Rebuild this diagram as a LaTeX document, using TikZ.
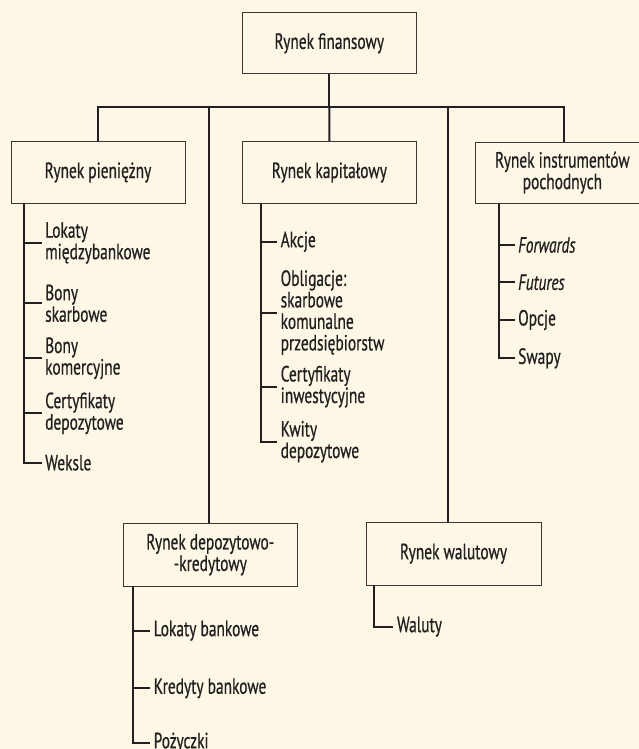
\documentclass[tikz,border=0pt]{standalone}
\usepackage{fontspec}
\setmainfont{PT Sans}[FakeStretch=0.7, FakeBold=0.6]
\definecolor{bg}{HTML}{FDF8E6}
\definecolor{linec}{HTML}{231F20}
\definecolor{boxc}{HTML}{3A3636}
\begin{document}
\begin{tikzpicture}[x=1pt,y=-1pt,
  txt/.style={font=\fontsize{22}{21.5}\selectfont, text=linec},
  box/.style={txt, draw=boxc, line width=1pt, fill=bg, align=center, inner sep=0pt},
  leaf/.style={txt, anchor=west, align=left, inner xsep=3.5pt, inner ysep=0pt},
  conn/.style={draw=linec, line width=2pt},
]
\useasboundingbox (0,0) rectangle (639,749);
\clip (0,0) rectangle (639,749);
\fill[bg] (0,0) rectangle (639,749);

% boxes
\node[box, minimum width=174pt, minimum height=61.3pt] (fin) at (329.3,43.35) {Rynek finansowy};
\node[box, minimum width=174pt, minimum height=61.6pt] (pien) at (98,172.5) {Rynek pieniężny};
\node[box, minimum width=174pt, minimum height=61.6pt] (kap) at (329.4,172.5) {Rynek kapitałowy};
\node[box, minimum width=173.3pt, minimum height=61.3pt] (poch) at (562.4,172.65) {Rynek instrumentów\\pochodnych};
\node[box, minimum width=174pt, minimum height=62.7pt] (dep) at (210.3,554.65) {Rynek depozytowo-\\-kredytowy};
\node[box, minimum width=175pt, minimum height=62.7pt] (wal) at (453.5,553.65) {Rynek walutowy};

% main connectors
\coordinate (bus) at (329.3,107.3);
\coordinate (busL) at (97.7,107.3);
\coordinate (busR) at (564,107.3);
\draw[conn] (fin.south) -- (bus);
\draw[conn] (pien.north -| busL) -- (busL) -- (busR) -- (poch.north -| busR);
\draw[conn] (bus) -- (kap.north);
\draw[conn] (209.3,107.3) coordinate (bd) -- (dep.north -| bd);
\draw[conn] (448.3,107.3) coordinate (bw) -- (wal.north -| bw);

% Rynek pieniezny children
\coordinate (v1) at (24,203.3);
\node[leaf] (p1) at (41.5,243) {Lokaty\\międzybankowe};
\node[leaf] (p2) at (41.5,303.3) {Bony\\skarbowe};
\node[leaf] (p3) at (41.5,358.3) {Bony\\komercyjne};
\node[leaf] (p4) at (41.5,413.3) {Certyfikaty\\depozytowe};
\node[leaf] (p5) at (41.5,462.7) {Weksle};
\draw[conn] (v1) |- (p5.west);
\foreach \n in {p1,p2,p3,p4} \draw[conn] (\n.west) -- (\n.west -| v1);

% Rynek kapitalowy children
\coordinate (v2) at (260.5,203.3);
\node[leaf] (k1) at (277,241.7) {Akcje};
\node[leaf] (k2) at (277,312.5) {Obligacje:\\skarbowe\\komunalne\\przedsiębiorstw};
\node[leaf] (k3) at (277,386.7) {Certyfikaty\\inwestycyjne};
\node[leaf] (k4) at (277,441.7) {Kwity\\depozytowe};
\draw[conn] (v2) |- (k4.west);
\foreach \n in {k1,k2,k3} \draw[conn] (\n.west) -- (\n.west -| v2);

% Rynek instrumentow pochodnych children
\coordinate (v3) at (498.5,203.3);
\node[leaf] (d1) at (514.5,245) {\itshape Forwards};
\node[leaf] (d2) at (514.5,282.3) {\itshape Futures};
\node[leaf] (d3) at (514.5,320) {Opcje};
\node[leaf] (d4) at (514.5,358.3) {Swapy};
\draw[conn] (v3) |- (d4.west);
\foreach \n in {d1,d2,d3} \draw[conn] (\n.west) -- (\n.west -| v3);

% Rynek depozytowo-kredytowy children
\coordinate (v4) at (133.3,586);
\node[leaf] (r1) at (150,630.7) {Lokaty bankowe};
\node[leaf] (r2) at (150,688.3) {Kredyty bankowe};
\node[leaf] (r3) at (150,742.7) {Pożyczki};
\draw[conn] (v4) |- (r3.west);
\foreach \n in {r1,r2} \draw[conn] (\n.west) -- (\n.west -| v4);

% Rynek walutowy children
\coordinate (v5) at (374,585);
\node[leaf] (w1) at (393.3,626.7) {Waluty};
\draw[conn] (v5) |- (w1.west);
\end{tikzpicture}
\end{document}
